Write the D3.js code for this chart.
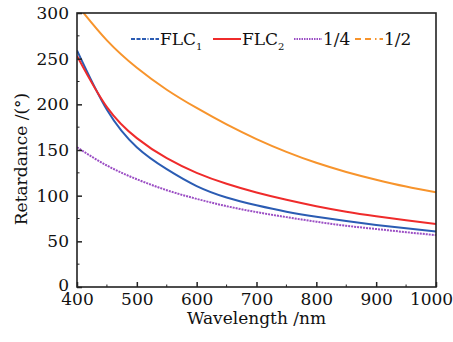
<!DOCTYPE html>
<html>
<head>
<meta charset="utf-8">
<script src="https://cdn.jsdelivr.net/npm/d3@7"></script>
<style>
  body { margin: 0; background: #fff; }
  svg { display: block; font-family: "DejaVu Serif", serif; }
</style>
</head>
<body>
<div id="chart"></div>
<script>
const width = 453;
const height = 342;
const margin = { top: 13, right: 17, bottom: 55, left: 77 };
const fontSize = 17;

// Data (wavelength in nm, retardance in degrees)
const wavelengths = [400, 450, 500, 550, 600, 650, 700, 750, 800, 850, 900, 950, 1000];
const flc1 = [259, 194, 153, 129, 110.5, 98, 89.5, 82.5, 77, 72.3, 68, 64.3, 60.8];
const flc2 = [253, 197, 163, 141, 125, 113, 103.5, 95.5, 88.5, 82.5, 77.5, 73, 68.9];
const quarter = [153, 133, 118, 106, 96.5, 88.5, 82, 76.5, 71.5, 67, 63.5, 60, 56.8];
const half = [309, 270, 240, 216, 196, 178, 162, 148, 136, 126, 117.5, 110, 103.6];

const xTicks = [400, 500, 600, 700, 800, 900, 1000];
const yTicks = [0, 50, 100, 150, 200, 250, 300];

const series = [
    { name: "FLC", sub: "1", values: flc1, color: "#2b5cb3", plotDash: null, legendDash: "4,1.5,4,1.5,4,1.5,1,1.5" },
    { name: "FLC", sub: "2", values: flc2, color: "#ef2b2b", plotDash: null, legendDash: null },
    { name: "1/4", sub: null, values: quarter, color: "#9b4ec4", plotDash: "2,1", legendDash: "1.5,1" },
    { name: "1/2", sub: null, values: half, color: "#f7942c", plotDash: null, legendDash: "6,4,6,4,1.5,3" }
];

const x = d3.scaleLinear().domain([400, 1000]).range([margin.left, width - margin.right]);
const y = d3.scaleLinear().domain([0, 300]).range([height - margin.bottom, margin.top]);

const svg = d3.select("#chart").append("svg")
    .attr("width", width)
    .attr("height", height);

svg.append("clipPath").attr("id", "plot-clip")
    .append("rect")
    .attr("x", margin.left)
    .attr("y", margin.top)
    .attr("width", width - margin.left - margin.right)
    .attr("height", height - margin.top - margin.bottom);

const line = d3.line()
    .x((d, i) => x(wavelengths[i]))
    .y(d => y(d))
    .curve(d3.curveNatural);

// curves
const curves = svg.append("g").attr("clip-path", "url(#plot-clip)");
curves.selectAll("path")
    .data(series)
    .join("path")
    .attr("d", d => line(d.values))
    .attr("fill", "none")
    .attr("stroke", d => d.color)
    .attr("stroke-width", 2)
    .attr("stroke-dasharray", d => d.plotDash);

// axes, ticks inward
const tickColor = "#222";
const xAxis = d3.axisBottom(x).tickValues(xTicks).tickFormat(d3.format("d"))
    .tickSizeInner(-5).tickSizeOuter(0).tickPadding(6);
const gx = svg.append("g")
    .attr("transform", `translate(0,${height - margin.bottom})`)
    .call(xAxis);
gx.selectAll(".tick line").attr("stroke", tickColor).attr("stroke-width", 1.5);
// last label pulled in a little so it stays on the page
gx.selectAll(".tick text").filter(d => d === 1000).attr("dx", -5);

const yAxis = d3.axisLeft(y).tickValues(yTicks).tickSizeInner(-5).tickSizeOuter(0).tickPadding(8);
const gy = svg.append("g")
    .attr("transform", `translate(${margin.left},0)`)
    .call(yAxis);
gy.selectAll(".tick line").attr("stroke", tickColor).attr("stroke-width", 1.5);
// nudge the 0 up so it clears the 400
gy.selectAll(".tick text").filter(d => d === 0).attr("y", -2);

[gx, gy].forEach(g => {
    g.select(".domain").remove();
    g.selectAll("text").attr("fill", "#111").style("font-size", fontSize + "px").style("font-family", "DejaVu Serif, serif");
});

// minor ticks
svg.append("g").selectAll("line")
    .data(d3.range(450, 1000, 100))
    .join("line")
    .attr("x1", d => x(d)).attr("x2", d => x(d))
    .attr("y1", height - margin.bottom).attr("y2", height - margin.bottom - 2.5)
    .attr("stroke", tickColor).attr("stroke-width", 1);
svg.append("g").selectAll("line")
    .data(d3.range(25, 300, 50))
    .join("line")
    .attr("y1", d => y(d)).attr("y2", d => y(d))
    .attr("x1", margin.left).attr("x2", margin.left + 2.5)
    .attr("stroke", tickColor).attr("stroke-width", 1);

// frame
svg.append("rect")
    .attr("x", margin.left)
    .attr("y", margin.top)
    .attr("width", width - margin.left - margin.right)
    .attr("height", height - margin.top - margin.bottom)
    .attr("fill", "none")
    .attr("stroke", "#222")
    .attr("stroke-width", 1.6);

// axis titles
svg.append("text")
    .attr("x", (margin.left + width - margin.right) / 2)
    .attr("y", 324)
    .attr("text-anchor", "middle")
    .style("font-size", fontSize + "px")
    .attr("fill", "#111")
    .text("Wavelength /nm");

svg.append("text")
    .attr("transform", `translate(27,159) rotate(-90)`)
    .attr("text-anchor", "middle")
    .style("font-size", fontSize + "px")
    .attr("fill", "#111")
    .text("Retardance /(°)");

// legend
const legendPos = [131, 213, 294, 355];
const legend = svg.append("g");
series.forEach((s, i) => {
    const lx = legendPos[i];
    const g = legend.append("g").attr("transform", `translate(${lx},39)`);
    g.append("line")
        .attr("x1", 0).attr("x2", 28)
        .attr("y1", 0).attr("y2", 0)
        .attr("stroke", s.color)
        .attr("stroke-width", 2)
        .attr("stroke-dasharray", s.legendDash);
    const t = g.append("text")
        .attr("x", 29)
        .attr("y", 6)
        .style("font-size", fontSize + "px")
        .attr("fill", "#111")
        .text(s.name);
    if (s.sub) {
        t.append("tspan")
            .attr("dy", 5)
            .style("font-size", "10px")
            .text(s.sub);
    }
});
</script>
</body>
</html>
